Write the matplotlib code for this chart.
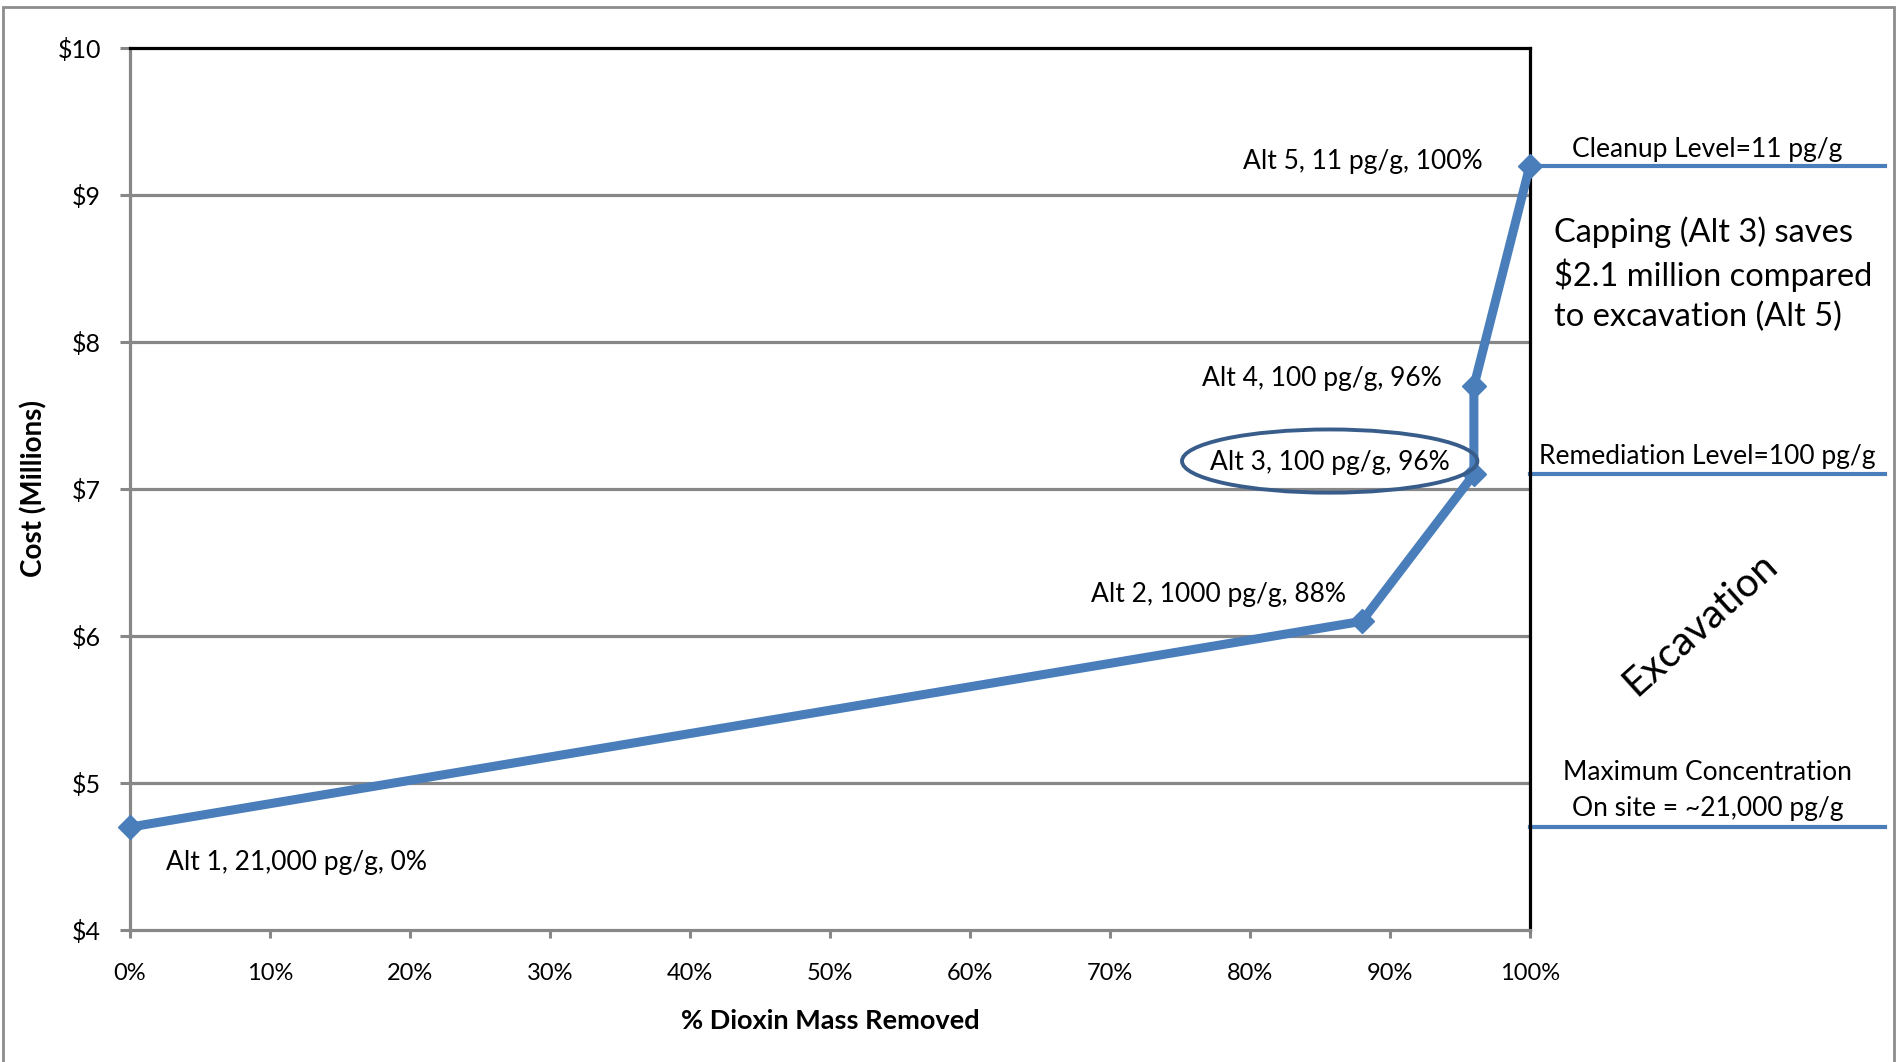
import matplotlib
matplotlib.use("Agg")
import matplotlib.pyplot as plt
from matplotlib.patches import Ellipse, Rectangle

plt.rcParams['font.family'] = ['Lato', 'DejaVu Sans']

# cost vs. dioxin removal for the five alternatives
alt_names = ["Alt 1", "Alt 2", "Alt 3", "Alt 4", "Alt 5"]
levels = ["21,000 pg/g", "1000 pg/g", "100 pg/g", "100 pg/g", "11 pg/g"]
pct_removed = [0, 88, 96, 96, 100]
cost = [4.7, 6.1, 7.1, 7.7, 9.2]

y_ticks = [4, 5, 6, 7, 8, 9, 10]
x_ticks = [0, 10, 20, 30, 40, 50, 60, 70, 80, 90, 100]

blue = "#4A7EBB"
grey = "#878787"

fig = plt.figure(figsize=(19, 10.62), dpi=100)
ax = fig.add_axes([0.0684, 0.1243, 0.7368, 0.8305])

ax.set_xlim(0, 100)
ax.set_ylim(4, 10)
ax.set_yticks(y_ticks)
ax.set_yticklabels(["$%d" % v for v in y_ticks])
ax.set_xticks(x_ticks)
ax.set_xticklabels(["%d%%" % v for v in x_ticks])

for v in y_ticks[1:-1]:
    ax.axhline(v, color=grey, lw=2.3, zorder=1)

ax.spines['left'].set_color(grey)
ax.spines['bottom'].set_color(grey)
ax.spines['left'].set_linewidth(2.3)
ax.spines['bottom'].set_linewidth(2.3)
ax.spines['top'].set_color("black")
ax.spines['right'].set_color("black")
ax.spines['top'].set_linewidth(2.3)
ax.spines['right'].set_linewidth(2.3)

ax.tick_params(axis='y', length=7, width=2.2, color=grey, pad=14, labelsize=18)
ax.tick_params(axis='x', length=6, width=2.2, color=grey, pad=18, labelsize=17)

ax.plot(pct_removed, cost, color=blue, lw=6.5, marker='D', markersize=12,
        zorder=3, clip_on=False)

# point labels
fs = 19
ax.text(2.6, 4.46, "%s, %s, %d%%" % (alt_names[0], levels[0], pct_removed[0]),
        fontsize=fs, ha='left', va='center')
ax.text(86.9, 6.28, "%s, %s, %d%%" % (alt_names[1], levels[1], pct_removed[1]),
        fontsize=fs, ha='right', va='center')
ax.text(85.7, 7.18, "%s, %s, %d%%" % (alt_names[2], levels[2], pct_removed[2]),
        fontsize=fs, ha='center', va='center')
ax.text(93.7, 7.75, "%s, %s, %d%%" % (alt_names[3], levels[3], pct_removed[3]),
        fontsize=fs, ha='right', va='center')
ax.text(96.6, 9.23, "%s, %s, %d%%" % (alt_names[4], levels[4], pct_removed[4]),
        fontsize=fs, ha='right', va='center')

ax.add_patch(Ellipse((85.7, 7.19), 21.1, 0.43, fill=False, edgecolor="#385D8A",
                     lw=2.8, zorder=4))

# reference levels to the right of the plot
ax.plot([100, 125.4], [cost[4], cost[4]], color=blue, lw=3, clip_on=False)
ax.plot([100, 125.4], [cost[2], cost[2]], color=blue, lw=3, clip_on=False)
ax.plot([100, 125.4], [cost[0], cost[0]], color=blue, lw=3, clip_on=False)

ax.text(112.7, 9.31, "Cleanup Level=11 pg/g", fontsize=fs, ha='center', va='center')
ax.text(112.7, 7.22, "Remediation Level=100 pg/g", fontsize=fs, ha='center', va='center')
ax.text(112.7, 4.95, "Maximum Concentration\nOn site = ~21,000 pg/g", fontsize=fs,
        ha='center', va='center', linespacing=1.55)
ax.text(101.7, 8.46, "Capping (Alt 3) saves\n$2.1 million compared\nto excavation (Alt 5)",
        fontsize=23.5, ha='left', va='center', linespacing=1.39)
ax.text(112.2, 6.08, "Excavation", fontsize=29, rotation=42, ha='center', va='center')

ax.set_xlabel("% Dioxin Mass Removed", fontsize=19.5, fontweight='bold', labelpad=18)
ax.set_ylabel("Cost (Millions)", fontsize=20, fontweight='bold', labelpad=7)

fig.patches.append(Rectangle((3 / 1900, -0.01), 1891 / 1900, 1.01 - 7 / 1062,
                             transform=fig.transFigure, fill=False,
                             edgecolor="#8C8C8C", lw=2))

plt.savefig("out.png", dpi=100)
